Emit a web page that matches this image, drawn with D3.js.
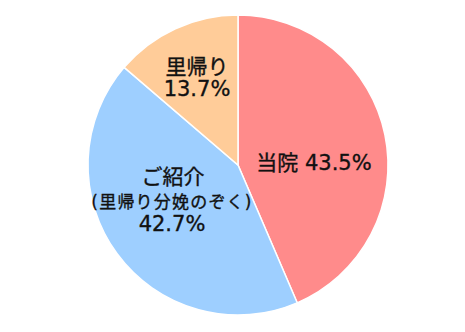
<!DOCTYPE html>
<html>
<head>
<meta charset="utf-8">
<script src="https://cdn.jsdelivr.net/npm/d3@7"></script>
<style>
  body { margin: 0; background: #fff; }
  svg { display: block; }
</style>
</head>
<body>
<svg></svg>
<script>
const categories = ["当院", "ご紹介", "里帰り"];
const values = [43.5, 42.7, 13.7];
const colors = ["#FF8B8B", "#9ECFFF", "#FFCC99"];

const width = 465, height = 332;
const cx = 238, cy = 165, radius = 150;

const svg = d3.select("svg")
    .attr("width", width)
    .attr("height", height);

const data = categories.map((c, i) => ({ name: c, value: values[i], color: colors[i] }));

const pie = d3.pie()
    .value(d => d.value)
    .sort(null);

const arc = d3.arc()
    .innerRadius(0)
    .outerRadius(radius);

const g = svg.append("g")
    .attr("transform", `translate(${cx},${cy})`);

g.selectAll("path")
    .data(pie(data))
    .enter().append("path")
    .attr("d", arc)
    .attr("fill", d => d.data.color)
    .attr("stroke", "#fff")
    .attr("stroke-width", 1.5);

const font = "'DejaVu Sans', 'Noto Sans CJK JP', sans-serif";
const fmt = v => d3.format(".1f")(v) + "%";

// labels: [text, font size, letter spacing, x, y]
const labels = [
    [categories[0] + " " + fmt(values[0]), 21, 0, 314, 162],
    [categories[1], 21, 0, 173, 176],
    ["(里帰り分娩のぞく)", 17, 1.2, 172, 202],
    [fmt(values[1]), 21, 0, 172, 223],
    [categories[2], 21, 0, 197, 66],
    [fmt(values[2]), 21, 0, 197, 88]
];

svg.append("g")
    .selectAll("text")
    .data(labels)
    .enter().append("text")
    .attr("x", d => d[3])
    .attr("y", d => d[4])
    .attr("dy", "0.36em")
    .attr("text-anchor", "middle")
    .attr("font-family", font)
    .attr("font-size", d => d[1])
    .attr("letter-spacing", d => d[2])
    .attr("fill", "#111")
    .attr("stroke", "#111")
    .attr("stroke-width", 0.35)
    .text(d => d[0]);
</script>
</body>
</html>
